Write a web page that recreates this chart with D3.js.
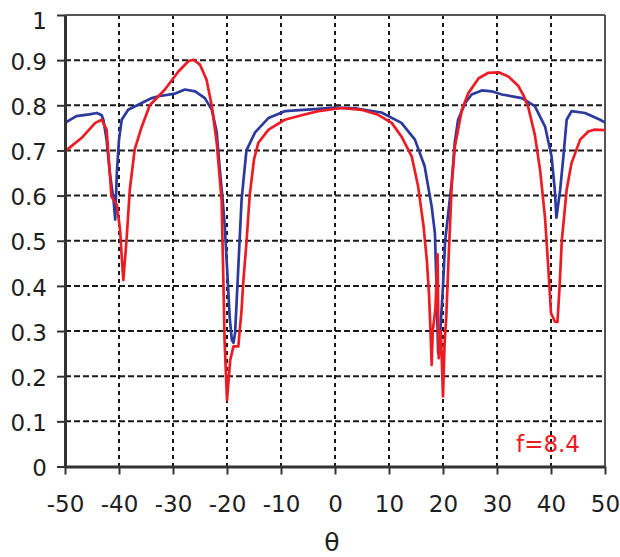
<!DOCTYPE html>
<html>
<head>
<meta charset="utf-8">
<script src="https://cdn.jsdelivr.net/npm/d3@7/dist/d3.min.js"></script>
<style>
  html, body { margin: 0; padding: 0; background: #fff; }
  svg { display: block; }
</style>
</head>
<body>
<svg id="chart" width="620" height="557"></svg>
<script>
// ---- data ----
const xTicks = [-50, -40, -30, -20, -10, 0, 10, 20, 30, 40, 50];
const yTicks = [0, 0.1, 0.2, 0.3, 0.4, 0.5, 0.6, 0.7, 0.8, 0.9, 1];
const yTickLabels = ["0", "0.1", "0.2", "0.3", "0.4", "0.5", "0.6", "0.7", "0.8", "0.9", "1"];
const xLabel = "θ";
const annotation = "f=8.4";

const blueTheta = [-50, -47.9, -45.5, -44.1, -43.2, -42.9, -42.3, -41.7, -41.0, -40.7, -40.4, -40.0, -39.5, -38.3, -35.8, -33.9, -32.7, -29.6, -27.8, -25.9, -24.1, -22.8, -21.9, -21.35, -20.8, -20.4, -19.9, -19.5, -19.1, -18.8, -18.5, -18.2, -17.9, -17.6, -17.3, -16.9, -16.4, -14.8, -12.3, -9.3, -3.1, 0, 4, 8.6, 12.3, 14.8, 16.6, 17.9, 18.5, 18.8, 19.1, 19.5, 20.0, 20.4, 21.6, 22.2, 22.8, 24.1, 25.3, 27.2, 29, 30.9, 34.6, 37.0, 38.9, 40.1, 40.7, 41.0, 41.7, 42.3, 42.9, 43.8, 46.3, 49.1, 50];
const blueR = [0.761, 0.776, 0.780, 0.783, 0.778, 0.768, 0.724, 0.65, 0.59, 0.547, 0.65, 0.724, 0.768, 0.79, 0.805, 0.816, 0.82, 0.826, 0.835, 0.831, 0.816, 0.79, 0.74, 0.66, 0.59, 0.53, 0.42, 0.33, 0.28, 0.274, 0.296, 0.369, 0.443, 0.517, 0.59, 0.64, 0.70, 0.74, 0.772, 0.787, 0.792, 0.795, 0.793, 0.784, 0.761, 0.724, 0.665, 0.576, 0.517, 0.40, 0.251, 0.30, 0.40, 0.50, 0.628, 0.72, 0.768, 0.805, 0.824, 0.833, 0.831, 0.824, 0.816, 0.798, 0.753, 0.687, 0.613, 0.551, 0.613, 0.687, 0.768, 0.787, 0.783, 0.768, 0.762];

const redTheta = [-50, -46.9, -44.4, -43.2, -42.3, -41.7, -41.4, -40.4, -39.8, -39.5, -39.2, -38.6, -38.0, -37.1, -35.8, -34.3, -31.5, -29, -27.1, -26.2, -25, -23.8, -22.8, -21.9, -21.0, -20.65, -20.45, -20.0, -19.4, -18.8, -17.9, -17.3, -17.0, -16.4, -15.8, -15.0, -14.2, -12.3, -9.3, -6.2, -3.1, 1.2, 4.9, 8, 10.5, 12.3, 14.2, 15.4, 16.4, 17.0, 17.4, 17.7, 17.9, 18.1, 18.6, 19.0, 19.2, 19.6, 20.0, 20.3, 20.6, 21.0, 21.6, 22.2, 23.5, 24.7, 26.6, 28.4, 30.3, 32.1, 34, 35, 35.8, 37, 38, 38.9, 39.5, 40.0, 40.7, 41.2, 41.6, 42.0, 42.9, 43.8, 45.4, 46.9, 48, 50];
const redR = [0.698, 0.728, 0.761, 0.768, 0.746, 0.65, 0.598, 0.58, 0.524, 0.465, 0.413, 0.502, 0.613, 0.702, 0.752, 0.80, 0.835, 0.875, 0.898, 0.901, 0.89, 0.857, 0.798, 0.717, 0.59, 0.40, 0.28, 0.147, 0.236, 0.266, 0.266, 0.347, 0.407, 0.495, 0.60, 0.68, 0.717, 0.746, 0.768, 0.778, 0.787, 0.794, 0.79, 0.779, 0.761, 0.731, 0.687, 0.62, 0.532, 0.458, 0.384, 0.296, 0.225, 0.30, 0.35, 0.47, 0.24, 0.30, 0.155, 0.274, 0.33, 0.45, 0.62, 0.709, 0.79, 0.827, 0.86, 0.872, 0.873, 0.864, 0.842, 0.82, 0.795, 0.735, 0.655, 0.55, 0.44, 0.34, 0.321, 0.32, 0.40, 0.50, 0.613, 0.672, 0.724, 0.742, 0.746, 0.745];

// ---- layout ----
const svg = d3.select("#chart");
const L = 65, R = 605, T = 15, B = 466.5;
const x = d3.scaleLinear().domain([-50, 50]).range([L, R]);
const y = d3.scaleLinear().domain([0, 1]).range([B, T]);
const font = "'DejaVu Sans', Verdana, sans-serif";
const textColor = "#1e1e1e";

// grid
const grid = svg.append("g");
grid.selectAll("line.h").data(yTicks.slice(1, -1)).join("line")
  .attr("x1", L).attr("x2", R)
  .attr("y1", d => y(d)).attr("y2", d => y(d))
  .attr("stroke", "#1a1a1a").attr("stroke-width", 2)
  .attr("stroke-dasharray", "6,3");
grid.selectAll("line.v").data(xTicks.slice(1, -1)).join("line")
  .attr("x1", d => x(d)).attr("x2", d => x(d))
  .attr("y1", T).attr("y2", B)
  .attr("stroke", "#1a1a1a").attr("stroke-width", 2)
  .attr("stroke-dasharray", "4,4");

// frame (top/right)
svg.append("line").attr("x1", L).attr("x2", R).attr("y1", T).attr("y2", T)
  .attr("stroke", "#555").attr("stroke-width", 2);
svg.append("line").attr("x1", R).attr("x2", R).attr("y1", T).attr("y2", B)
  .attr("stroke", "#555").attr("stroke-width", 2);

// clip
svg.append("defs").append("clipPath").attr("id", "clip")
  .append("rect").attr("x", L).attr("y", T).attr("width", R - L).attr("height", B - T);

const line = d3.line().x(d => x(d[0])).y(d => y(d[1]));
const plot = svg.append("g").attr("clip-path", "url(#clip)");
plot.append("path").datum(d3.zip(blueTheta, blueR))
  .attr("d", line).attr("fill", "none")
  .attr("stroke", "#2b3a9c").attr("stroke-width", 2.7).attr("stroke-linejoin", "round");
plot.append("path").datum(d3.zip(redTheta, redR))
  .attr("d", line).attr("fill", "none")
  .attr("stroke", "#ec1c24").attr("stroke-width", 2.7).attr("stroke-linejoin", "round");

// axes
const xAxis = d3.axisBottom(x).tickValues(xTicks).tickSize(8).tickSizeOuter(0).tickPadding(21)
  .tickFormat(d3.format("d"));
const gx = svg.append("g").attr("transform", `translate(0,${B})`).call(xAxis);
gx.select(".domain").attr("stroke", "#333").attr("stroke-width", 3);
gx.selectAll(".tick line").attr("stroke", "#333").attr("stroke-width", 2);
gx.selectAll(".tick text").attr("font-family", font).attr("font-size", 23).attr("fill", textColor)
  .text(d => d < 0 ? "-" + Math.abs(d) : String(d));

const yAxis = d3.axisLeft(y).tickValues(yTicks).tickSize(8).tickSizeOuter(0).tickPadding(10)
  .tickFormat((d, i) => yTickLabels[i]);
const gy = svg.append("g").attr("transform", `translate(${L},0)`).call(yAxis);
gy.select(".domain").attr("stroke", "#333").attr("stroke-width", 3);
gy.selectAll(".tick line").attr("stroke", "#333").attr("stroke-width", 2);
gy.selectAll(".tick text").attr("font-family", font).attr("font-size", 23).attr("fill", textColor)
  .attr("dy", d => d === 1 ? "0.6em" : "0.4em");

// axis title
svg.append("text").attr("x", 332).attr("y", 551)
  .attr("text-anchor", "middle").attr("font-family", font).attr("font-size", 25)
  .attr("fill", textColor).text(xLabel);

// annotation
svg.append("text").attr("x", 580).attr("y", 452)
  .attr("text-anchor", "end").attr("font-family", font).attr("font-size", 23)
  .attr("fill", "#ec1c24").text(annotation);
</script>
</body>
</html>
